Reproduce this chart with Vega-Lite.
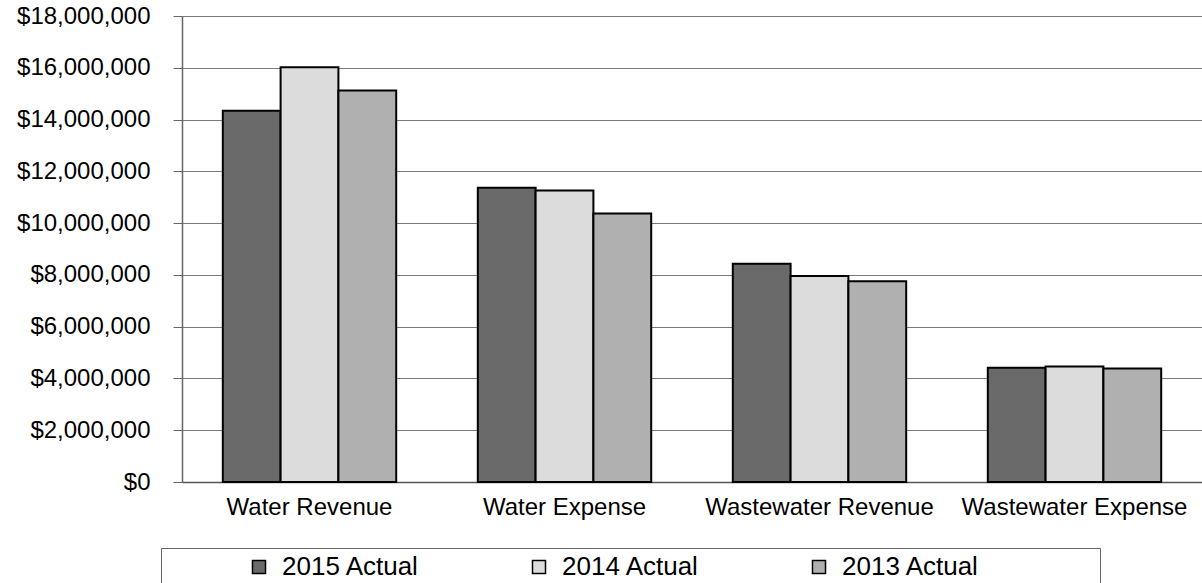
{
  "$schema": "https://vega.github.io/schema/vega-lite/v6.json",
  "autosize": {"type": "none"},
  "padding": {"left": 182, "top": 16, "right": 0, "bottom": 101},
  "width": 1020,
  "height": 466,
  "config": {"font": "Liberation Sans", "view": {"stroke": null}},
  "data": {
    "values": [
      {"category": "Water Revenue", "year": "2015 Actual", "value": 14340000},
      {"category": "Water Revenue", "year": "2014 Actual", "value": 16020000},
      {"category": "Water Revenue", "year": "2013 Actual", "value": 15120000},
      {"category": "Water Expense", "year": "2015 Actual", "value": 11370000},
      {"category": "Water Expense", "year": "2014 Actual", "value": 11260000},
      {"category": "Water Expense", "year": "2013 Actual", "value": 10370000},
      {"category": "Wastewater Revenue", "year": "2015 Actual", "value": 8430000},
      {"category": "Wastewater Revenue", "year": "2014 Actual", "value": 7960000},
      {"category": "Wastewater Revenue", "year": "2013 Actual", "value": 7750000},
      {"category": "Wastewater Expense", "year": "2015 Actual", "value": 4410000},
      {"category": "Wastewater Expense", "year": "2014 Actual", "value": 4460000},
      {"category": "Wastewater Expense", "year": "2013 Actual", "value": 4380000}
    ]
  },
  "mark": {"type": "bar", "stroke": "#000000", "strokeWidth": 2},
  "encoding": {
    "x": {
      "field": "category",
      "type": "nominal",
      "sort": ["Water Revenue", "Water Expense", "Wastewater Revenue", "Wastewater Expense"],
      "scale": {"paddingInner": 0.32, "paddingOuter": 0.16},
      "axis": {
        "title": null,
        "labelAngle": 0,
        "labelFontSize": 24,
        "labelColor": "#000000",
        "labelPadding": 13,
        "ticks": false,
        "domainColor": "#555555",
        "domainWidth": 1.5,
        "labelLimit": 0,
        "labelOverlap": false
      }
    },
    "xOffset": {
      "field": "year",
      "type": "nominal",
      "sort": ["2015 Actual", "2014 Actual", "2013 Actual"],
      "scale": {"paddingInner": 0, "paddingOuter": 0}
    },
    "y": {
      "field": "value",
      "type": "quantitative",
      "scale": {"domain": [0, 18000000], "nice": false},
      "axis": {
        "title": null,
        "values": [0, 2000000, 4000000, 6000000, 8000000, 10000000, 12000000, 14000000, 16000000, 18000000],
        "format": "$,.0f",
        "labelFontSize": 24,
        "labelColor": "#000000",
        "labelPadding": 23,
        "tickSize": 9,
        "tickColor": "#666666",
        "domainColor": "#666666",
        "domainWidth": 1.5,
        "gridColor": "#7a7a7a",
        "gridWidth": 1.2
      }
    },
    "color": {
      "field": "year",
      "type": "nominal",
      "scale": {
        "domain": ["2015 Actual", "2014 Actual", "2013 Actual"],
        "range": ["#6a6a6a", "#dcdcdc", "#b0b0b0"]
      },
      "legend": {
        "orient": "none",
        "legendX": -21,
        "legendY": 532,
        "direction": "horizontal",
        "title": " ",
        "titleOrient": "left",
        "titleFontSize": 10,
        "titlePadding": 79,
        "padding": 6,
        "strokeColor": "#666666",
        "symbolType": "square",
        "symbolSize": 169,
        "symbolStrokeColor": "#000000",
        "symbolStrokeWidth": 1.5,
        "labelFontSize": 26,
        "labelColor": "#000000",
        "labelOffset": 10,
        "labelLimit": 500,
        "columnPadding": 106,
        "labelExpr": "datum.label == '2013 Actual' ? datum.label + '\u2800\u2800\u2800\u2800\u2800\u2800' : datum.label"
      }
    }
  }
}
